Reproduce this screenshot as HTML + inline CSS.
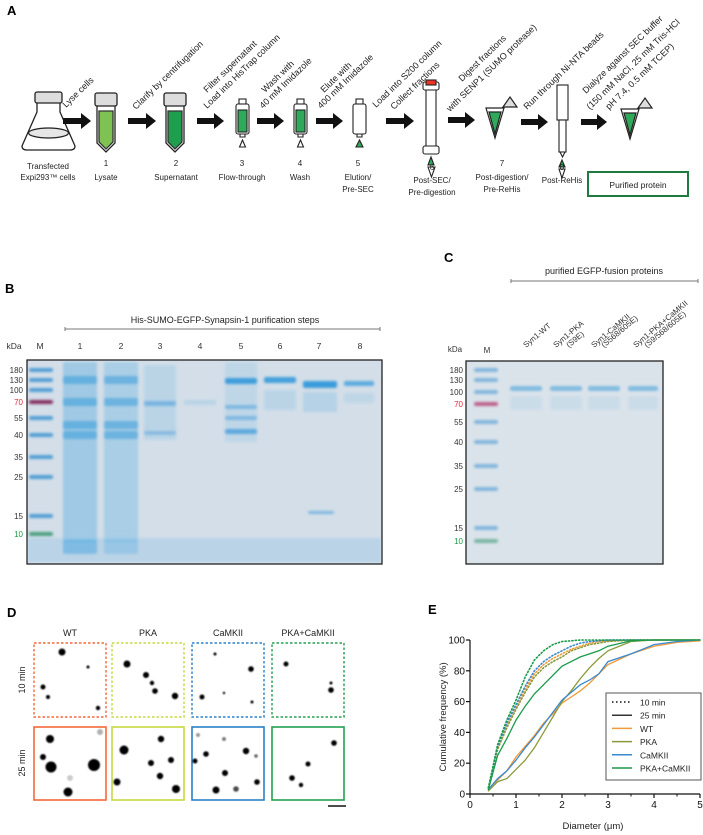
<!DOCTYPE html>
<html><head><meta charset="utf-8"><style>
body{margin:0;background:#fff}
svg{display:block;font-family:"Liberation Sans",Arial,sans-serif}
</style></head><body>
<svg id="fig" width="703" height="835" viewBox="0 0 703 835" xmlns="http://www.w3.org/2000/svg">
<defs>
<filter id="bl" x="-20%" y="-50%" width="140%" height="200%"><feGaussianBlur stdDeviation="1.2"/></filter>
<filter id="dotb" x="-50%" y="-50%" width="200%" height="200%"><feGaussianBlur stdDeviation="0.8"/></filter>
</defs>

<!-- ============ PANEL A ============ -->
<g>
<text x="7" y="15" font-size="13" font-weight="bold">A</text>
<g stroke="#222" stroke-width="1.3" fill="#fff">
<path d="M37,102 L37,112 L22,146 Q22,150 27,150 L70,150 Q75,150 75,146 L60,112 L60,102 Z"/>
<ellipse cx="48.5" cy="133" rx="20" ry="5" fill="#e6e6e6"/>
<rect x="35" y="92" width="27" height="11" rx="2" fill="#ddd"/>
</g>
<text x="48" y="169" font-size="8" text-anchor="middle" fill="#222">Transfected</text>
<text x="48" y="180" font-size="8" text-anchor="middle" fill="#222">Expi293™ cells</text>
<g fill="#111">
<path d="M63,118 h18 v-5 l10,8 l-10,8 v-5 h-18z"/>
<path d="M128,118 h18 v-5 l10,8 l-10,8 v-5 h-18z"/>
<path d="M197,118 h17 v-5 l10,8 l-10,8 v-5 h-17z"/>
<path d="M257,118 h17 v-5 l10,8 l-10,8 v-5 h-17z"/>
<path d="M316,118 h17 v-5 l10,8 l-10,8 v-5 h-17z"/>
<path d="M386,118 h18 v-5 l10,8 l-10,8 v-5 h-18z"/>
<path d="M448,117 h17 v-5 l10,8 l-10,8 v-5 h-17z"/>
<path d="M521,119 h17 v-5 l10,8 l-10,8 v-5 h-17z"/>
<path d="M581,119 h16 v-5 l10,8 l-10,8 v-5 h-16z"/>
</g>
<g stroke="#222" stroke-width="1.3">
<path d="M97,105 v38 l9,9 l9,-9 v-38z" fill="#fff"/>
<path d="M99,111 v31 l7,7 l7,-7 v-31z" fill="#7ec254" stroke="#333"/>
<rect x="95" y="93" width="22" height="13" rx="2" fill="#ddd"/>
</g>
<g stroke="#222" stroke-width="1.3">
<path d="M166,105 v38 l9,9 l9,-9 v-38z" fill="#fff"/>
<path d="M168,111 v31 l7,7 l7,-7 v-31z" fill="#1f9e4e" stroke="#333"/>
<rect x="164" y="93" width="22" height="13" rx="2" fill="#ddd"/>
</g>
<g stroke="#222" stroke-width="1.1">
<rect x="236" y="104" width="13" height="30" rx="2" fill="#fff"/><rect x="238" y="110" width="9" height="22" fill="#2eaa5a"/><rect x="239" y="99" width="7" height="5" fill="#fff"/><path d="M240,134 h5 v3 h-5z" fill="#fff"/><path d="M242.5,140 l-3,7 h6z" fill="#fff"/>
<rect x="294" y="104" width="13" height="30" rx="2" fill="#fff"/><rect x="296" y="110" width="9" height="22" fill="#2eaa5a"/><rect x="297" y="99" width="7" height="5" fill="#fff"/><path d="M298,134 h5 v3 h-5z" fill="#fff"/><path d="M300.5,140 l-3,7 h6z" fill="#fff"/>
<rect x="353" y="104" width="13" height="30" rx="2" fill="#fff"/><rect x="356" y="99" width="7" height="5" fill="#fff"/><path d="M357,134 h5 v3 h-5z" fill="#fff"/><path d="M359.5,140 l-3.5,7 h7z" fill="#2eaa5a"/>
</g>
<g stroke="#222" stroke-width="1.1">
<rect x="426" y="88" width="10" height="60" fill="#fff"/>
<rect x="423" y="82" width="16" height="8" rx="2" fill="#fff"/><rect x="426" y="80" width="10" height="5" fill="#e32"/>
<rect x="423" y="146" width="16" height="8" rx="2" fill="#fff"/>
<path d="M431,157 l-3,8 h6z" fill="#2eaa5a"/><path d="M428,167 h7 l-3.5,10z" fill="#fff"/>
</g>
<g stroke="#222" stroke-width="1.2">
<path d="M486,108 h18 l-9,30z" fill="#fff"/><path d="M489,112 h12 l-6,22z" fill="#2eaa5a"/><path d="M503,107 l7,-10 l7,10z" fill="#ddd"/>
<path d="M621,109 h18 l-9,30z" fill="#fff"/><path d="M624,113 h12 l-6,22z" fill="#2eaa5a"/><path d="M638,108 l7,-10 l7,10z" fill="#ddd"/>
</g>
<g stroke="#222" stroke-width="1.1">
<rect x="557" y="85" width="11" height="35" fill="#fff"/><rect x="559" y="120" width="7" height="32" fill="#fff"/><path d="M560,152 h5 l-2.5,5z" fill="#fff"/>
<path d="M562,160 l-3,7 h6z" fill="#2eaa5a"/><path d="M559,169 h6 l-3,9z" fill="#fff"/>
</g>
<g font-size="8" fill="#222" text-anchor="middle">
<text x="106" y="166">1</text><text x="106" y="180">Lysate</text>
<text x="176" y="166">2</text><text x="176" y="180">Supernatant</text>
<text x="242" y="166">3</text><text x="242" y="180">Flow-through</text>
<text x="300" y="166">4</text><text x="300" y="180">Wash</text>
<text x="358" y="166">5</text><text x="358" y="180">Elution/</text><text x="358" y="192">Pre-SEC</text>
<text x="432" y="170">6</text><text x="432" y="183">Post-SEC/</text><text x="432" y="195">Pre-digestion</text>
<text x="502" y="166">7</text><text x="502" y="180">Post-digestion/</text><text x="502" y="192">Pre-ReHis</text>
<text x="562" y="170">8</text><text x="562" y="183">Post-ReHis</text>
</g>
<g>
<rect x="588" y="172" width="100" height="24" fill="#fff" stroke="#1e7a3e" stroke-width="2"/>
<text x="638" y="188" font-size="8.5" text-anchor="middle" fill="#222">Purified protein</text>
</g>
<g font-size="9" fill="#222">
<text transform="translate(66,108) rotate(-44)">Lyse cells</text>
<text transform="translate(136,110) rotate(-44)">Clarify by centrifugation</text>
<text transform="translate(207,93) rotate(-44)">Filter supernatant</text>
<text transform="translate(207,109) rotate(-44)">Load into HisTrap column</text>
<text transform="translate(265,93) rotate(-44)">Wash with</text>
<text transform="translate(263,109) rotate(-44)">40 mM Imidazole</text>
<text transform="translate(324,93) rotate(-44)">Elute with</text>
<text transform="translate(321,109) rotate(-44)">400 mM Imidazole</text>
<text transform="translate(376,108) rotate(-44)">Load into S200 column</text>
<text transform="translate(394,110) rotate(-44)">Collect fractions</text>
<text transform="translate(462,82) rotate(-44)">Digest fractions</text>
<text transform="translate(450,112) rotate(-44)">with SENP1 (SUMO protease)</text>
<text transform="translate(527,110) rotate(-44)">Run through Ni-NTA beads</text>
<text transform="translate(586,94) rotate(-44)">Dialyze against SEC buffer</text>
<text transform="translate(590,110) rotate(-44)">(150 mM NaCl, 25 mM Tris-HCl</text>
<text transform="translate(609,110) rotate(-44)">pH 7.4, 0.5 mM TCEP)</text>
</g>
</g>

<!-- ============ PANEL B ============ -->
<g>
<text x="5" y="293" font-size="13" font-weight="bold">B</text>
<text x="225" y="323" font-size="9" text-anchor="middle" fill="#222">His-SUMO-EGFP-Synapsin-1 purification steps</text>
<path d="M65,327 v4 M65,329 H380 M380,327 v4" stroke="#777" stroke-width="1" fill="none"/>
<g font-size="8.5" fill="#333" text-anchor="middle">
<text x="14" y="349">kDa</text><text x="40" y="349">M</text>
<text x="80" y="349">1</text><text x="121" y="349">2</text><text x="160" y="349">3</text><text x="200" y="349">4</text><text x="241" y="349">5</text><text x="280" y="349">6</text><text x="319" y="349">7</text><text x="360" y="349">8</text>
</g>
<rect x="27" y="360" width="355" height="204" fill="#d3dee8" stroke="#222" stroke-width="1.3"/>
<g id="gelB" filter="url(#bl)"></g>
<g font-size="8" fill="#333" text-anchor="end" id="markB"></g>
</g>

<!-- ============ PANEL C ============ -->
<g>
<text x="444" y="262" font-size="13" font-weight="bold">C</text>
<text x="604" y="274" font-size="9" text-anchor="middle" fill="#222">purified EGFP-fusion proteins</text>
<path d="M511,279 v4 M511,281 H698 M698,279 v4" stroke="#777" stroke-width="1" fill="none"/>
<g font-size="8" fill="#333">
<text x="455" y="352" text-anchor="middle">kDa</text><text x="487" y="353" text-anchor="middle">M</text>
<text transform="translate(526,348) rotate(-40)">Syn1-WT</text>
<text transform="translate(556,348) rotate(-40)">Syn1-PKA</text>
<text transform="translate(569,348) rotate(-40)">(S9E)</text>
<text transform="translate(594,348) rotate(-40)">Syn1-CaMKII</text>
<text transform="translate(604,348) rotate(-40)">(S568/605E)</text>
<text transform="translate(636,348) rotate(-40)">Syn1-PKA+CaMKII</text>
<text transform="translate(647,348) rotate(-40)">(S9/568/605E)</text>
</g>
<rect x="466" y="361" width="197" height="203" fill="#dbe3ea" stroke="#222" stroke-width="1.3"/>
<g id="gelC" filter="url(#bl)"></g>
<g font-size="8" fill="#333" text-anchor="end" id="markC"></g>
</g>

<!-- ============ PANEL D ============ -->
<g>
<text x="7" y="617" font-size="13" font-weight="bold">D</text>
<g font-size="9" fill="#222" text-anchor="middle">
<text x="70" y="636">WT</text><text x="148" y="636">PKA</text><text x="228" y="636">CaMKII</text><text x="308" y="636">PKA+CaMKII</text>
</g>
<text transform="translate(25,680) rotate(-90)" font-size="9" text-anchor="middle" fill="#222">10 min</text>
<text transform="translate(25,763) rotate(-90)" font-size="9" text-anchor="middle" fill="#222">25 min</text>
<g id="imgs"></g>
<line x1="328" y1="806" x2="346" y2="806" stroke="#111" stroke-width="1.5"/>
</g>

<!-- ============ PANEL E ============ -->
<g>
<text x="428" y="614" font-size="13" font-weight="bold">E</text>
<g id="chartE"></g>
</g>
</svg>

<script>
// ---------- Panel E data ----------
const diam = [0.4,0.6,0.8,1.0,1.2,1.4,1.6,1.8,2.0,2.2,2.4,2.6,2.8,3.0,3.5,4.0,4.5,5.0];
const wt25   = [3,9,15,24,31,38,46,52,59,63,67,72,78,84,91,96,98.5,99.5];
const pka25  = [2,8,10,16,22,30,40,50,60,67,75,82,88,93,99,100,100,100];
const cam25  = [3,10,15,22,30,37,45,53,61,66,71,74,78,86,91,97,99,100];
const both25 = [3,25,36,48,57,65,71,77,83,86,89,91,93,96,99.5,100,100,100];
const wt10   = [4,30,44,56,68,78,84,88,91,94,96,98,99,99.5,100,100,100,100];
const pka10  = [4,29,43,55,66,76,82,86,89,93,95,97,98,99,100,100,100,100];
const cam10  = [4,31,46,58,70,80,86,90,93,96,98,99,99.5,100,100,100,100,100];
const both10 = [4,32,48,61,76,87,93,97,99,99.5,100,100,100,100,100,100,100,100];
const xTicks = [0,1,2,3,4,5];
const yTicks = [0,20,40,60,80,100];
const legendLabels = ["10 min","25 min","WT","PKA","CaMKII","PKA+CaMKII"];

const NS="http://www.w3.org/2000/svg";
function mk(tag, attrs, parent){const e=document.createElementNS(NS,tag);for(const k in attrs)e.setAttribute(k,attrs[k]);if(parent)parent.appendChild(e);return e;}
const xS = d => 470 + d*46;
const yS = v => 794 - v*1.54;
const E = document.getElementById('chartE');

const yAxis = mk('line',{x1:470,y1:640,x2:470,y2:794,stroke:'#111','stroke-width':1.2},E);


const xAxis = mk('line',{x1:470,y1:794,x2:700,y2:794,stroke:'#111','stroke-width':1.2},E);


yTicks.forEach(v=>{
  mk('line',{x1:466,y1:yS(v),x2:470,y2:yS(v),stroke:'#111','stroke-width':1.2},E);
  const t=mk('text',{x:465,y:yS(v)+3.5,'font-size':10,'text-anchor':'end',fill:'#111'},E);
  t.textContent=v;
  
  
});
xTicks.forEach((v,i)=>{
  mk('line',{x1:xS(v),y1:794,x2:xS(v),y2:798,stroke:'#111','stroke-width':1.2},E);
  if(i<xTicks.length-1) mk('line',{x1:xS(v+0.5),y1:794,x2:xS(v+0.5),y2:796.5,stroke:'#111','stroke-width':1},E);
  const t=mk('text',{x:xS(v),y:808,'font-size':10,'text-anchor':'middle',fill:'#111'},E);
  t.textContent=v;
  
  
});
const yt=mk('text',{transform:'translate(446,717) rotate(-90)','font-size':9.5,'text-anchor':'middle',fill:'#222'},E);
yt.textContent='Cumulative frequency (%)';


const xt=mk('text',{x:593,y:829,'font-size':9.5,'text-anchor':'middle',fill:'#222'},E);
xt.textContent='Diameter (μm)';



const cOr='#f39a3a', cOl='#8a9a3a', cBl='#3a8ad0', cGr='#1a9a4a';
function line(vals,color,dotted,name){
  const d=diam.map((x,i)=>(i?'L':'M')+xS(x).toFixed(1)+','+yS(vals[i]).toFixed(1)).join(' ');
  const p=mk('path',{d:d,fill:'none',stroke:color,'stroke-width':dotted?1.6:1.3,'stroke-dasharray':dotted?'1.2,2.2':'none','stroke-linecap':'round'},E);
  
  
}
line(wt10,cOr,true,'wt-10min-line');
line(pka10,cOl,true,'pka-10min-line');
line(cam10,cBl,true,'camkii-10min-line');
line(both10,cGr,true,'pka-camkii-10min-line');
line(wt25,cOr,false,'wt-25min-line');
line(pka25,cOl,false,'pka-25min-line');
line(cam25,cBl,false,'camkii-25min-line');
line(both25,cGr,false,'pka-camkii-25min-line');

const lg=mk('g',{},E);


mk('rect',{x:606,y:693,width:95,height:87,fill:'#fff',stroke:'#555','stroke-width':1},lg);
const lc=['#333','#333',cOr,cOl,cBl,cGr];
legendLabels.forEach((lab,i)=>{
  const y=702+i*13.2;
  mk('line',{x1:612,y1:y,x2:632,y2:y,stroke:lc[i],'stroke-width':i==0?1.8:1.5,'stroke-dasharray':i==0?'1.5,2.5':'none'},lg);
  const t=mk('text',{x:640,y:y+3.5,'font-size':8.5,fill:'#222'},lg);
  t.textContent=lab;
  
  
});

// ---------- Gels ----------
const markerKDa = ["180","130","100","70","55","40","35","25","15","10"];
const markYB = [370,380,390,402,418,435,457,477,516,534];
const markYC = [370,380,392,404,422,442,466,489,528,541];
function markerLabels(id,ys,x){
  const g=document.getElementById(id);
  markerKDa.forEach((k,i)=>{
    const t=mk('text',{x:x,y:ys[i]+3,fill:k=='70'?'#e8263a':(k=='10'?'#1a9a4a':'#333')},g);
    t.textContent=k;
  });
}
markerLabels('markB',markYB,23);
markerLabels('markC',markYC,463);
function band(g,x,y,w,h,color,op){mk('rect',{x:x,y:y,width:w,height:h,fill:color,opacity:op,rx:2},g);}
const GB=document.getElementById('gelB');
markYB.forEach((y,i)=>band(GB,29,y-2,24,4,i==3?'#7a2050':(i==9?'#1a8a5a':'#2a8ad0'),i==3?0.9:0.75));
[80,121].forEach((x,j)=>{
  band(GB,x-17,362,34,180,'#4aa8e0',j?0.3:0.38);
  [380,402,425,435].forEach(y=>band(GB,x-17,y-4,34,8,'#1e90d8',0.45));
  band(GB,x-17,540,34,14,'#2a9ae0',j?0.25:0.45);
});
band(GB,144,365,32,75,'#4aa8e0',0.18);band(GB,144,401,32,5,'#2a90d8',0.45);band(GB,144,431,32,4,'#2a90d8',0.35);
band(GB,184,400,32,5,'#4aa8e0',0.2);
band(GB,225,362,32,80,'#4aa8e0',0.14);band(GB,225,378,32,6,'#1e90d8',0.8);band(GB,225,405,32,4,'#2a90d8',0.45);band(GB,225,416,32,4,'#2a90d8',0.45);band(GB,225,429,32,5,'#2a90d8',0.65);
band(GB,264,377,32,6,'#1e90d8',0.8);band(GB,264,390,32,20,'#4aa8e0',0.18);
band(GB,303,381,34,7,'#1e90d8',0.85);band(GB,303,392,34,20,'#4aa8e0',0.22);band(GB,308,511,26,3,'#2a90d8',0.5);
band(GB,344,381,30,5,'#1e90d8',0.65);band(GB,344,393,30,10,'#4aa8e0',0.15);
band(GB,28,538,353,24,'#6ab4e4',0.25);
const GC=document.getElementById('gelC');
markYC.forEach((y,i)=>band(GC,474,y-2,24,4,i==3?'#b02a60':(i==9?'#1a8a5a':'#2a8ad0'),i==3?0.7:0.5));
[[510,32],[550,32],[588,32],[628,30]].forEach(([x,w])=>{
  band(GC,x,386,w,5,'#3a9ad8',0.55);band(GC,x,396,w,14,'#6ab4e4',0.14);
});

// ---------- Panel D microscopy ----------
const cols = [34,112,192,272];
const colColors = ['#f4693a','#c8d840','#2a80c8','#22a050'];
const dots10 = [
  [[62,652,3.5],[43,687,2.5],[48,697,2],[88,667,1.5],[98,708,2.2]],
  [[127,664,3.5],[146,675,3],[152,683,2.2],[155,691,2.8],[175,696,3.2]],
  [[215,654,1.5],[251,669,2.8],[202,697,2.5],[252,702,1.5],[224,693,1.2]],
  [[286,664,2.5],[331,690,2.8],[331,683,1.5]]
];
const dots25 = [
  [[50,739,4],[43,757,3],[51,767,5.5],[94,765,6],[68,792,4.5],[100,732,3,0.3],[70,778,3,0.2]],
  [[124,750,4.5],[161,739,3.2],[151,763,3],[160,776,3.2],[171,760,3],[117,782,3.5],[176,789,4]],
  [[198,735,2,0.4],[206,754,2.8],[195,761,2.5],[225,773,3],[246,751,3.2],[216,790,3.5],[236,789,2.8,0.7],[257,782,2.8],[224,739,2,0.5],[256,756,1.8,0.6]],
  [[334,743,2.8],[308,764,2.5],[292,778,2.8],[301,785,2.2]]
];
const IM=document.getElementById('imgs');
cols.forEach((x,i)=>{
  const r1=mk('rect',{x:x,y:643,width:72,height:74,fill:'#fff',stroke:colColors[i],'stroke-width':1.4,'stroke-dasharray':'2.5,2'},IM);
  
  
  const r2=mk('rect',{x:x,y:727,width:72,height:73,fill:'#fff',stroke:colColors[i],'stroke-width':1.6},IM);
  
  
  dots10[i].forEach(d=>mk('circle',{cx:d[0],cy:d[1],r:d[2],fill:'#000',opacity:d[3]||1,filter:'url(#dotb)'},IM));
  dots25[i].forEach(d=>mk('circle',{cx:d[0],cy:d[1],r:d[2],fill:'#000',opacity:d[3]||1,filter:'url(#dotb)'},IM));
});
</script>
</body></html>
